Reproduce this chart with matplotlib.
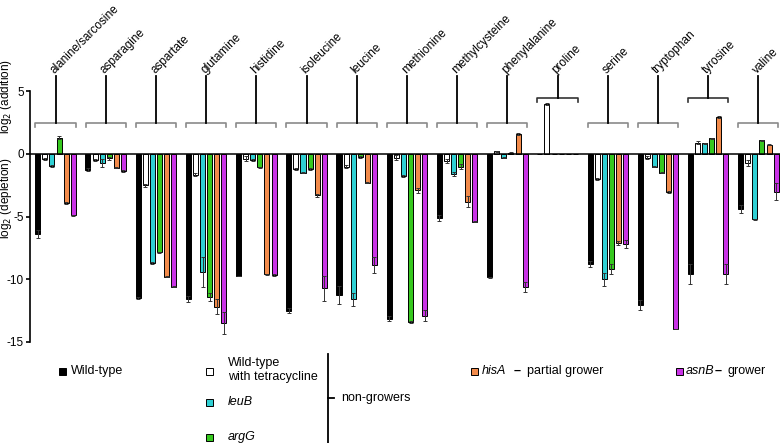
"""Amino acid depletion / addition per strain, log2 scale, bracketed groups."""
import matplotlib
matplotlib.use("Agg")
import matplotlib.pyplot as plt
from matplotlib.patches import Rectangle
from matplotlib.lines import Line2D

plt.rcParams['font.family'] = ['Liberation Sans', 'DejaVu Sans']
plt.rcParams['axes.unicode_minus'] = False

amino = ["alanine/sarcosine", "asparagine", "aspartate", "glutamine", "histidine",
         "isoleucine", "leucine", "methionine", "methylcysteine", "phenylalanine",
         "proline", "serine", "tryptophan", "tyrosine", "valine"]

wt      = [-6.4, -1.25, -11.5, -11.55, -9.7, -12.5, -11.25, -13.15, -5.1, -9.85, 0, -8.75, -12.05, -9.55, -4.4]
wt_err  = [0.3, 0.1, 0.1, 0.25, 0, 0.2, 0.75, 0.2, 0.25, 0.05, 0, 0.25, 0.4, 0.8, 0.3]
tet     = [-0.4, -0.5, -2.5, -1.65, -0.4, -1.2, -1.0, -0.3, -0.55, 0.2, 4.0, -2.0, -0.3, 0.9, -0.7]
tet_err = [0.1, 0.1, 0.1, 0.1, 0.2, 0.1, 0.1, 0.2, 0.15, 0.05, 0.1, 0.1, 0.1, 0.1, 0.25]
leub     = [-0.95, -0.7, -8.7, -9.4, -0.5, -1.5, -11.6, -1.75, -1.6, -0.3, 0, -10.0, -1.0, 0.85, -5.2]
leub_err = [0.05, 0.3, 0.05, 1.2, 0.1, 0.05, 0.5, 0.05, 0.15, 0.05, 0, 0.5, 0.05, 0.05, 0.05]
argg     = [1.3, -0.35, -7.85, -11.4, -1.05, -1.2, -0.25, -13.4, -1.0, 0.1, 0, -9.15, -1.5, 1.25, 1.1]
argg_err = [0.1, 0.1, 0.05, 0.3, 0.05, 0.1, 0.05, 0.05, 0.2, 0.05, 0, 0.4, 0.05, 0.05, 0.05]
hisa     = [-3.9, -1.1, -9.8, -12.2, -9.6, -3.3, -2.3, -2.9, -3.8, 1.6, 0, -7.1, -3.05, 2.95, 0.75]
hisa_err = [0.1, 0.05, 0.05, 0.6, 0.05, 0.1, 0.05, 0.2, 0.45, 0.1, 0, 0.15, 0.1, 0.1, 0.05]
asnb     = [-4.9, -1.35, -10.6, -13.5, -9.65, -10.7, -8.85, -12.9, -5.4, -10.6, 0, -7.2, -14.0, -9.55, -3.0]
asnb_err = [0.05, 0.1, 0.05, 0.9, 0.05, 1.0, 0.65, 0.45, 0.05, 0.4, 0, 0.3, 0, 0.8, 0.7]

BLACK = "#000000"; WHITE = "#ffffff"; CYAN = "#2fd0d4"; GREEN = "#36c81f"
ORANGE = "#f28b4b"; MAGENTA = "#c933e6"; GRAY = "#8a8a8a"

strains = [(wt, wt_err, BLACK), (tet, tet_err, WHITE), (leub, leub_err, CYAN),
           (argg, argg_err, GREEN), (hisa, hisa_err, ORANGE), (asnb, asnb_err, MAGENTA)]
raised = {"proline", "tyrosine"}

W, H = 780, 443
fig = plt.figure(figsize=(W / 100, H / 100), dpi=100)
ax = fig.add_axes([30 / W, 101 / H, 1 - 30 / W, (342 - 91.3) / H])

step = 0.1414
for k, (vals, errs, col) in enumerate(strains):
    xs = [i + (k - 2.5) * step for i in range(len(amino))]
    ax.bar(xs, vals, width=0.1, color=col, edgecolor="black", linewidth=0.7, zorder=2)
    ex = [x for x, v in zip(xs, vals) if v != 0]
    ey = [v for v in vals if v != 0]
    ee = [e for e, v in zip(errs, vals) if v != 0]
    ax.errorbar(ex, ey, yerr=ee, fmt="none", ecolor="#333333", elinewidth=0.7,
                capsize=1.5, capthick=0.7, zorder=3)

ax.axhline(0, color="black", lw=1.1, zorder=4)

# brackets + stems + rotated labels
for i, name in enumerate(amino):
    by = 4.48 if name in raised else 2.45
    bc = "#333333" if name in raised else GRAY
    ax.plot([i - 0.4, i - 0.4, i + 0.4, i + 0.4], [by - 0.3, by, by, by - 0.3],
            color=bc, lw=1.2, clip_on=False)
    ax.plot([i, i], [by, 6.2], color="black", lw=1.3, clip_on=False)
    ax.text(i - 0.02, 6.4, name, rotation=45, rotation_mode="anchor",
            ha="left", va="baseline", fontsize=8.5)

ax.set_xlim(-0.508, 14.43)
ax.set_ylim(-15, 5)
ax.set_yticks([5, 0, -5, -10, -15])
ax.set_xticks([])
for s in ("top", "right", "bottom"):
    ax.spines[s].set_visible(False)
ax.spines["left"].set_linewidth(1.2)
ax.tick_params(axis="y", length=3, width=1.2, labelsize=8.5, pad=1.5)
ax.patch.set_alpha(0)

fig.text(6.5 / W, 1 - 97 / H, r"log$_2$ (addition)", rotation=90, ha="center", va="center", fontsize=8.5)
fig.text(6.5 / W, 1 - 198 / H, r"log$_2$ (depletion)", rotation=90, ha="center", va="center", fontsize=8.5)


# legend, placed in figure pixels
def P(x, y):
    return x / W, 1 - y / H


def square(x, y, col):
    fig.patches.append(Rectangle(P(x - 3.5, y + 3.5), 7 / W, 7 / H, transform=fig.transFigure,
                                 facecolor=col, edgecolor="black", linewidth=0.7))


square(62, 371, BLACK)
fig.text(*P(71, 371), "Wild-type", va="center", fontsize=9)
square(209, 371, WHITE)
fig.text(*P(228, 363), "Wild-type", va="center", fontsize=9)
fig.text(*P(228, 377), "with tetracycline", va="center", fontsize=9)
square(209, 402, CYAN)
fig.text(*P(228, 402), "leuB", va="center", fontsize=9, style="italic")
square(209, 437, GREEN)
fig.text(*P(228, 437), "argG", va="center", fontsize=9, style="italic")
fig.lines.append(Line2D([328 / W, 328 / W], [1 - 354 / H, 0], transform=fig.transFigure,
                        color="black", lw=1.3))
fig.lines.append(Line2D([328 / W, 334 / W], [1 - 398 / H, 1 - 398 / H], transform=fig.transFigure,
                        color="black", lw=1.3))
fig.text(*P(341, 398), "non-growers", va="center", fontsize=9)
square(475, 371, ORANGE)
fig.text(*P(482, 371), "hisA", va="center", fontsize=9, style="italic")
fig.text(*P(514, 371), "–", va="center", fontsize=9, fontweight="bold")
fig.text(*P(527, 371), "partial grower", va="center", fontsize=9)
square(679, 371, MAGENTA)
fig.text(*P(686, 371), "asnB", va="center", fontsize=9, style="italic")
fig.text(*P(715, 371), "–", va="center", fontsize=9, fontweight="bold")
fig.text(*P(727, 371), "grower", va="center", fontsize=9)

fig.savefig("out.png", dpi=100, facecolor="white")
